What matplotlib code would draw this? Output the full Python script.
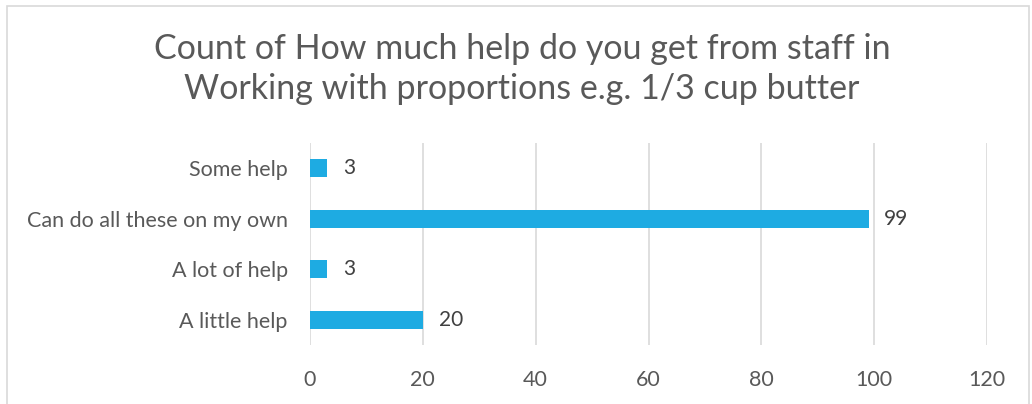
import matplotlib
matplotlib.use('Agg')
import matplotlib.pyplot as plt
import matplotlib.patches as patches

# ----------------------------------------------------------------
# data

categories=['A little help','A lot of help','Can do all these on my own','Some help']
counts=[20,3,99,3]
xticks=[0,20,40,60,80,100,120]
title='Count of How much help do you get from staff in\nWorking with proportions e.g. 1/3 cup butter'

# ----------------------------------------------------------------
# plot

plt.rcParams['font.family']=['Lato','DejaVu Sans']
fig=plt.figure(figsize=(10.32,4.04),dpi=100)
fig.set_facecolor('white')

# outer chart border
fig.patches.append(patches.Rectangle((7/1032,-0.01),1022/1032,1-6/404+0.01,
    transform=fig.transFigure,fill=False,edgecolor='#d9d9d9',lw=1.2))

ax=fig.add_axes([310/1032,1-345/404,677/1032,202/404])
ypos=list(range(len(categories)))
ax.barh(ypos,counts,height=0.35,color='#1eabe2',zorder=3)
for y,c in zip(ypos,counts):
    ax.text(c+2.8,y,str(c),va='center',ha='left',fontsize=15,color='#404040')

ax.set_xlim(0,120)
ax.set_ylim(-0.5,len(categories)-0.5)
ax.set_xticks(xticks)
ax.set_yticks(ypos)
ax.set_yticklabels(categories)
ax.grid(axis='x',color='#d9d9d9',lw=1.2,zorder=0)
for s in ax.spines.values():
    s.set_visible(False)
ax.tick_params(axis='both',length=0,labelsize=15.5,labelcolor='#595959')
ax.tick_params(axis='y',pad=16)
ax.tick_params(axis='x',pad=18)

fig.text(522/1032,1-69/404,title,ha='center',va='center',fontsize=24.5,
    color='#595959',linespacing=1.3)

plt.savefig('out.png',dpi=100)
